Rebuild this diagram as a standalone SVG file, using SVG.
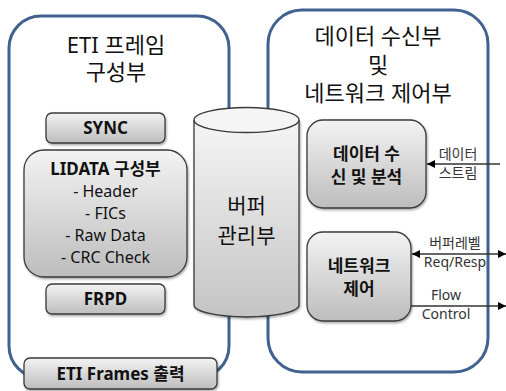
<svg xmlns="http://www.w3.org/2000/svg" width="506" height="391" viewBox="0 0 506 391">
<defs>
<linearGradient id="g" x1="0" y1="0" x2="0" y2="1">
<stop offset="0" stop-color="#f3f3f3"/>
<stop offset="1" stop-color="#bdbdbd"/>
</linearGradient>
<linearGradient id="gc" x1="0" y1="0" x2="0" y2="1">
<stop offset="0" stop-color="#f5f5f5"/>
<stop offset="1" stop-color="#c4c4c4"/>
</linearGradient>
<filter id="sh" x="-10%" y="-10%" width="120%" height="130%">
<feDropShadow dx="1" dy="1.5" stdDeviation="1" flood-color="#000" flood-opacity="0.35"/>
</filter>
<marker id="ah" viewBox="0 0 10 10" refX="10" refY="5" markerWidth="8" markerHeight="8" orient="auto-start-reverse" markerUnits="userSpaceOnUse">
<path d="M0,0 L10,5 L0,10 z" fill="#000"/>
</marker>
</defs>
<style>
.cont{fill:#fff;stroke:#41618f;stroke-width:3}
.box{fill:url(#g);stroke:#3a3a3a;stroke-width:1.3;filter:url(#sh)}
.t{font-family:"Noto Sans","Noto Sans CJK KR",sans-serif;fill:#111;text-anchor:middle}
.title{font-size:22px}
.buf{font-size:21px}
.b{font-size:17px;font-weight:bold}
.n{font-size:16px}
.lbl{font-family:"Noto Sans","Noto Sans CJK KR",sans-serif;font-size:14px;fill:#333;text-anchor:middle}
.ln{stroke:#333;stroke-width:1.3;fill:none}
</style>
<g id="left-container">
<rect class="cont" x="9" y="16" width="220" height="362" rx="32"/>
<text class="t title" x="116" y="53">ETI 프레임</text>
<text class="t title" x="116" y="80">구성부</text>
</g>
<g id="right-container">
<rect class="cont" x="268" y="10" width="220" height="362" rx="34"/>
<text class="t title" x="378" y="44">데이터 수신부</text>
<text class="t title" x="378" y="73">및</text>
<text class="t title" x="378" y="101">네트워크 제어부</text>
</g>
<g id="sync">
<rect class="box" x="46" y="113" width="119" height="30" rx="6"/>
<text class="t b" x="105.5" y="134">SYNC</text>
</g>
<g id="lidata">
<rect class="box" x="24" y="150" width="163" height="127" rx="20"/>
<text class="t b" x="105.5" y="175">LIDATA 구성부</text>
<text class="t n" x="105.5" y="197">- Header</text>
<text class="t n" x="105.5" y="219">- FICs</text>
<text class="t n" x="105.5" y="241">- Raw Data</text>
<text class="t n" x="105.5" y="263">- CRC Check</text>
</g>
<g id="frpd">
<rect class="box" x="46" y="284" width="119" height="30" rx="6"/>
<text class="t b" x="105.5" y="305">FRPD</text>
</g>
<g id="eti-frames">
<rect class="box" x="24" y="358" width="193" height="31" rx="6"/>
<text class="t b" x="120.5" y="380">ETI Frames 출력</text>
</g>
<g id="buffer">
<path d="M194,120 L194,305 A52.5,12 0 0 0 299,305 L299,120" fill="url(#gc)" stroke="#3a3a3a" stroke-width="1.3" filter="url(#sh)"/>
<ellipse cx="246.5" cy="120" rx="52.5" ry="12.5" fill="#f5f5f5" stroke="#3a3a3a" stroke-width="1.3"/>
<text class="t buf" x="246.5" y="213">버퍼</text>
<text class="t buf" x="246.5" y="243">관리부</text>
</g>
<g id="data-rx">
<rect class="box" x="307" y="120" width="119" height="88" rx="16"/>
<text class="t b" x="366.5" y="160">데이터 수</text>
<text class="t b" x="366.5" y="183">신 및 분석</text>
</g>
<g id="net-ctrl">
<rect class="box" x="307" y="232" width="104" height="89" rx="16"/>
<text class="t b" x="359" y="272">네트워크</text>
<text class="t b" x="359" y="295">제어</text>
</g>
<g id="connectors">
<line class="ln" x1="500" y1="164" x2="427" y2="164" marker-end="url(#ah)"/>
<line class="ln" x1="412" y1="254" x2="506" y2="254" marker-start="url(#ah)" marker-end="url(#ah)"/>
<line class="ln" x1="411" y1="306" x2="506" y2="306" marker-end="url(#ah)"/>
<text class="lbl" x="458" y="159">데이터</text>
<text class="lbl" x="458" y="178">스트림</text>
<text class="lbl" x="455" y="248">버퍼레벨</text>
<text class="lbl" x="455" y="267">Req/Resp</text>
<text class="lbl" x="446" y="300">Flow</text>
<text class="lbl" x="446" y="319">Control</text>
</g>
</svg>
